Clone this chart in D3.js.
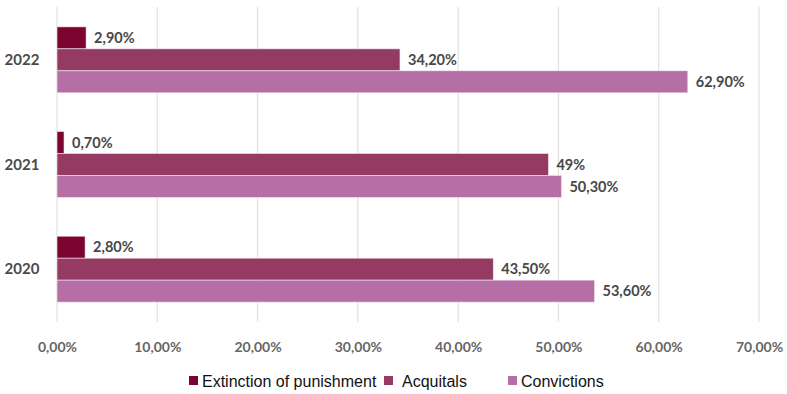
<!DOCTYPE html>
<html>
<head>
<meta charset="utf-8">
<script src="https://cdn.jsdelivr.net/npm/d3@7/dist/d3.min.js"></script>
<style>
  html, body { margin: 0; padding: 0; background: #fff; }
  svg { display: block; }
</style>
</head>
<body>
<svg id="chart" width="787" height="394"></svg>
<script>
// Categories (top to bottom) and series values in percent
const years = ["2022", "2021", "2020"];
const seriesNames = ["Extinction of punishment", "Acquitals", "Convictions"];
const extinction = [2.9, 0.7, 2.8];
const acquitals = [34.2, 49, 43.5];
const convictions = [62.9, 50.3, 53.6];
const valueLabels = {
  "Extinction of punishment": ["2,90%", "0,70%", "2,80%"],
  "Acquitals": ["34,20%", "49%", "43,50%"],
  "Convictions": ["62,90%", "50,30%", "53,60%"]
};
const tickValues = [0, 10, 20, 30, 40, 50, 60, 70];
const tickLabels = ["0,00%", "10,00%", "20,00%", "30,00%", "40,00%", "50,00%", "60,00%", "70,00%"];
const colors = ["#7b0530", "#953a62", "#b56ea6"];

const seriesValues = [extinction, acquitals, convictions];

const svg = d3.select("#chart");
const font = "Lato, 'Open Sans', sans-serif";

const x = d3.scaleLinear().domain([0, 70]).range([57, 759]);
const y0 = d3.scaleBand().domain(years).range([7, 322]).paddingInner(0.37).paddingOuter(0.19);
const y1 = d3.scaleBand().domain(seriesNames).range([0, y0.bandwidth()]);

// Vertical gridlines
svg.append("g")
  .selectAll("line")
  .data(tickValues)
  .join("line")
  .attr("x1", d => x(d)).attr("x2", d => x(d))
  .attr("y1", 7).attr("y2", 322)
  .attr("stroke", "#e3e3e3")
  .attr("stroke-width", 1.3);

// Bottom axis labels
const xAxis = d3.axisBottom(x)
  .tickValues(tickValues)
  .tickFormat((d, i) => tickLabels[i])
  .tickSize(0)
  .tickPadding(20);
const ax = svg.append("g").attr("transform", "translate(0,322)").call(xAxis);
ax.select(".domain").remove();
ax.selectAll("text")
  .attr("font-family", font)
  .attr("font-weight", "bold")
  .attr("font-size", 14)
  .attr("fill", "#666");

// Year labels
svg.append("g")
  .selectAll("text")
  .data(years)
  .join("text")
  .attr("x", 22)
  .attr("y", d => y0(d) + y0.bandwidth() / 2)
  .attr("dy", "0.35em")
  .attr("text-anchor", "middle")
  .attr("font-family", font)
  .attr("font-weight", "bold")
  .attr("font-size", 15)
  .attr("fill", "#4a4a4a")
  .text(d => d);

// Bars and value labels
seriesNames.forEach((name, si) => {
  const g = svg.append("g");
  const data = years.map((yr, i) => ({ yr, v: seriesValues[si][i], label: valueLabels[name][i] }));
  g.selectAll("rect")
    .data(data)
    .join("rect")
    .attr("x", x(0))
    .attr("y", d => y0(d.yr) + y1(name))
    .attr("width", d => x(d.v) - x(0))
    .attr("height", y1.bandwidth())
    .attr("fill", colors[si])
    .attr("stroke", "#f4e6ee")
    .attr("stroke-width", 0.6);
  g.selectAll("text")
    .data(data)
    .join("text")
    .attr("x", d => x(d.v) + 8)
    .attr("y", d => y0(d.yr) + y1(name) + y1.bandwidth() / 2)
    .attr("dy", "0.35em")
    .attr("font-family", font)
    .attr("font-weight", "bold")
    .attr("font-size", 14.5)
    .attr("fill", "#474747")
    .text(d => d.label);
});

// Legend
const legendItems = [
  { name: "Extinction of punishment", sx: 189, tx: 202 },
  { name: "Acquitals", sx: 384, tx: 402 },
  { name: "Convictions", sx: 508, tx: 521 }
];
const lg = svg.append("g");
legendItems.forEach((item, i) => {
  lg.append("rect")
    .attr("x", item.sx).attr("y", 376)
    .attr("width", 9).attr("height", 9)
    .attr("fill", colors[i]);
  lg.append("text")
    .attr("x", item.tx).attr("y", 381)
    .attr("dy", "0.35em")
    .attr("font-family", "'Liberation Sans', Arial, sans-serif")
    .attr("font-size", 16)
    .attr("fill", "#111")
    .text(item.name);
});
</script>
</body>
</html>
